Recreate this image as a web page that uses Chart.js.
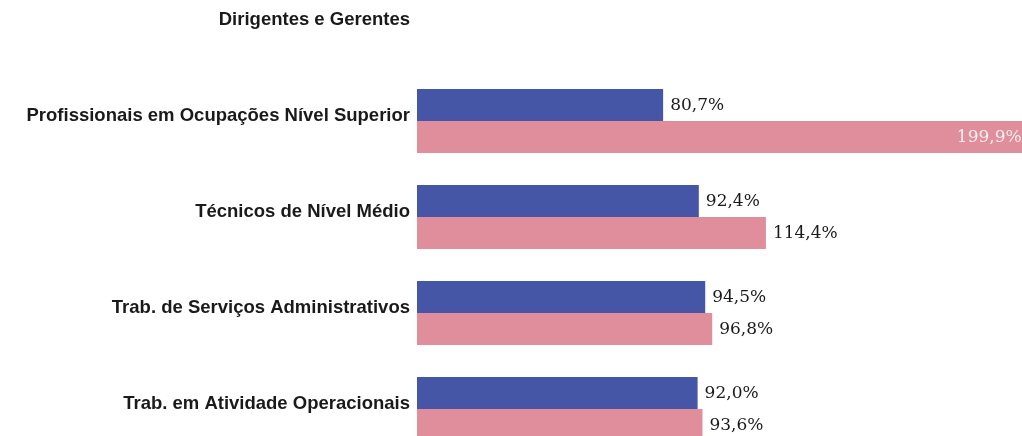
<!DOCTYPE html>
<html>
<head>
<meta charset="utf-8">
<script src="https://cdn.jsdelivr.net/npm/chart.js@4/dist/chart.umd.min.js"></script>
<style>
  html, body { margin: 0; padding: 0; background: #fff; overflow: hidden; width: 1022px; height: 436px; }
  #chart { position: absolute; left: 0; top: -23px; }
</style>
</head>
<body>
<canvas id="chart" width="1027" height="480"></canvas>
<script>
const categories = [
  'Dirigentes e Gerentes',
  'Profissionais em Ocupações Nível Superior',
  'Técnicos de Nível Médio',
  'Trab. de Serviços Administrativos',
  'Trab. em Atividade Operacionais',
];
const serieA = [null, 80.7, 92.4, 94.5, 92.0];
const serieB = [null, 199.9, 114.4, 96.8, 93.6];

const BLUE = '#4556a6';
const PINK = '#e08e9c';

const fmt = v => v.toFixed(1).replace('.', ',') + '%';

// value labels at the bar ends (inside when the bar runs off the edge)
const barLabels = {
  id: 'barLabels',
  afterDatasetsDraw(chart) {
    const { ctx, chartArea } = chart;
    ctx.save();
    ctx.font = '17px "DejaVu Serif", serif';
    ctx.textBaseline = 'middle';
    chart.data.datasets.forEach((ds, i) => {
      chart.getDatasetMeta(i).data.forEach((bar, j) => {
        const v = ds.data[j];
        if (v == null) return;
        const txt = fmt(v);
        if (bar.x + 70 > chartArea.right) {
          ctx.fillStyle = '#f6eef1';
          ctx.textAlign = 'right';
          ctx.fillText(txt, Math.min(bar.x, chartArea.right) - 5, bar.y + 1);
        } else {
          ctx.fillStyle = '#1a1a1a';
          ctx.textAlign = 'left';
          ctx.fillText(txt, bar.x + 7, bar.y + 1);
        }
      });
    });
    ctx.restore();
  },
};

new Chart(document.getElementById('chart'), {
  type: 'bar',
  data: {
    labels: categories,
    datasets: [
      { label: 'Série 1', data: serieA, backgroundColor: BLUE, barPercentage: 1, categoryPercentage: 0.667 },
      { label: 'Série 2', data: serieB, backgroundColor: PINK, barPercentage: 1, categoryPercentage: 0.667 },
    ],
  },
  options: {
    indexAxis: 'y',
    responsive: false,
    animation: false,
    devicePixelRatio: 1,
    layout: { padding: 0 },
    plugins: {
      legend: { display: false },
      tooltip: { enabled: false },
    },
    scales: {
      x: { display: false, min: 0, max: 200 },
      y: {
        grid: { display: false, drawTicks: false },
        border: { display: false },
        afterFit: (scale) => {
          scale.width = 417;
          scale.paddingTop = 0;
          scale.paddingBottom = 0;
        },
        ticks: {
          padding: 7,
          labelOffset: -5,
          color: '#1a1a1a',
          font: { family: '"Liberation Sans", Arial, sans-serif', size: 18.5, weight: 'bold' },
        },
      },
    },
  },
  plugins: [barLabels],
});
</script>
</body>
</html>
